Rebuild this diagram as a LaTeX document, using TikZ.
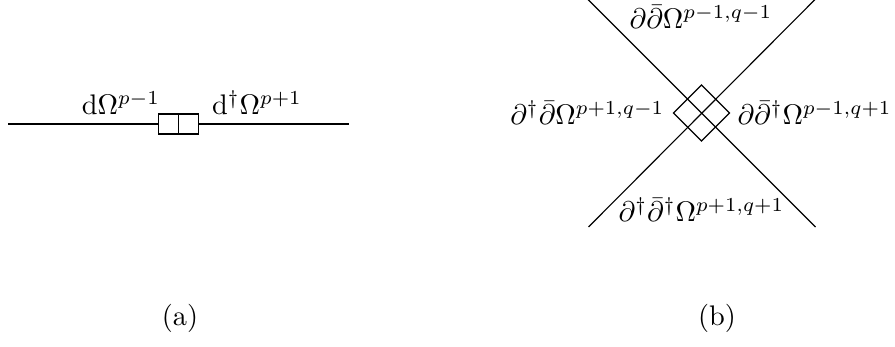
\documentclass[tikz,border=0pt]{standalone}
\begin{document}
\begin{tikzpicture}[x=0.353pt,y=-0.353pt,
  line/.style={line width=0.4pt},
  cell/.style={draw,line width=0.4pt,minimum width=20*0.353pt,minimum height=20*0.353pt,inner sep=0pt,outer sep=0pt},
  lab/.style={inner sep=0pt,anchor=base}]
\useasboundingbox (0,0) rectangle (895,347);
% (a)
\coordinate (la) at (8,124);
\coordinate (lb) at (349,124);
\node[cell] (b1) at (168.8,124) {};
\node[cell] (b2) at (188.8,124) {};
\draw[line] (la) -- (b1.west);
\draw[line] (b2.east) -- (lb);
\node[lab] (t1) at (121,115) {$\mathrm{d}\Omega^{p-1}$};
\node[lab] (t2) at (257,115) {$\mathrm{d}^\dagger\Omega^{p+1}$};
\node[lab] (ca) at (180,325) {(a)};
% (b)
\coordinate (c) at (701.5,113);
\coordinate (p1) at (586.5,-2);
\coordinate (p2) at (815.5,227);
\coordinate (q1) at (816.5,-2);
\coordinate (q2) at (588.5,227);
\node[draw,line width=0.4pt,rotate=45,minimum width=39.6*0.353pt,minimum height=39.6*0.353pt,inner sep=0pt,outer sep=0pt] (dia) at (c) {};
\draw[line] (p1) -- (p2);
\draw[line] (q1) -- (q2);
\node[lab] (t3) at (701,29) {$\partial\bar\partial\Omega^{p-1,q-1}$};
\node[lab,anchor=base east] (t4) at (665,125) {$\partial^\dagger\bar\partial\Omega^{p+1,q-1}$};
\node[lab,anchor=base west] (t5) at (737,125) {$\partial\bar\partial^\dagger\Omega^{p-1,q+1}$};
\node[lab] (t6) at (701.5,222) {$\partial^\dagger\bar\partial^\dagger\Omega^{p+1,q+1}$};
\node[lab] (cb) at (717,325) {(b)};
\end{tikzpicture}
\end{document}
